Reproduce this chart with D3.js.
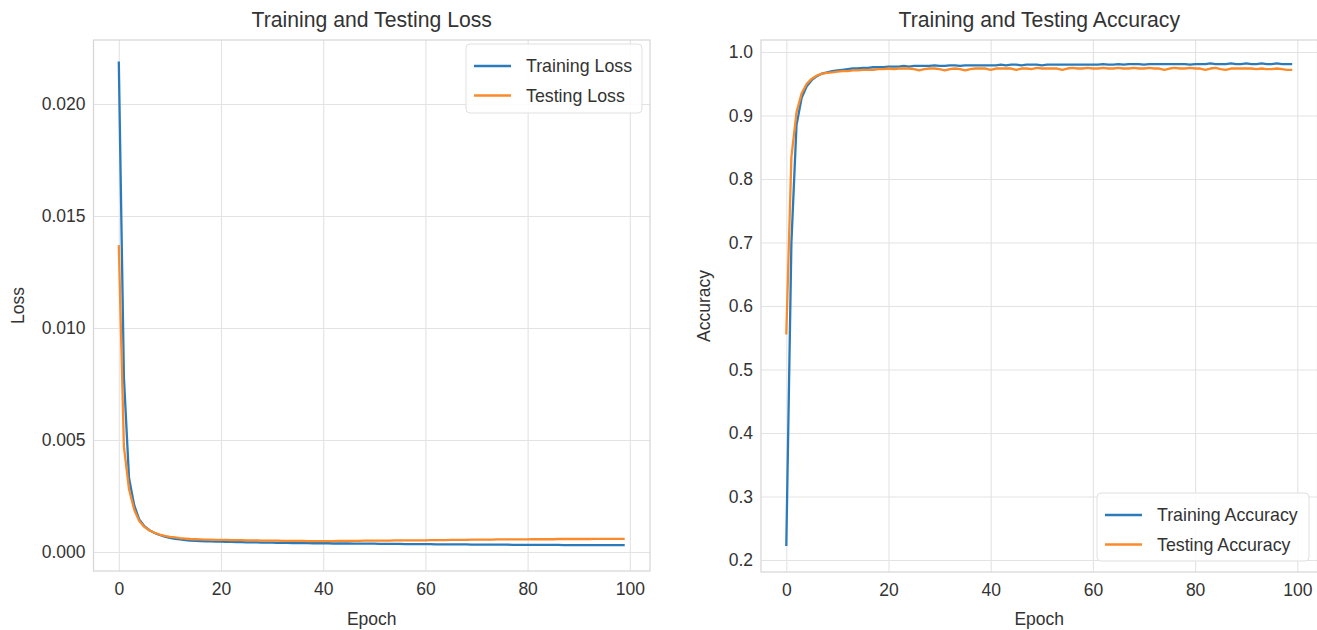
<!DOCTYPE html>
<html><head><meta charset="utf-8">
<script src="https://cdn.jsdelivr.net/npm/d3@7"></script>
<style>
body{margin:0;background:#fff;}
svg text{font-family:"Liberation Sans",Arial,sans-serif;fill:#333;}
</style></head>
<body><svg id="c" width="1317" height="630"></svg>
<script>
const epochs = d3.range(0, 100);
const xTicks = [0, 20, 40, 60, 80, 100];
const lossTicks = [0.000, 0.005, 0.010, 0.015, 0.020];
const accTicks = [0.2, 0.3, 0.4, 0.5, 0.6, 0.7, 0.8, 0.9, 1.0];

const trainLoss = [
 0.0219, 0.0078, 0.0033, 0.0021, 0.00145, 0.00115, 0.00097, 0.00085, 0.00076, 0.00069,
 0.00063, 0.00059, 0.00056, 0.00053, 0.00051, 0.00050, 0.00049, 0.00048, 0.00047, 0.00046,
 0.00046, 0.00045, 0.00045, 0.00044, 0.00044, 0.00043, 0.00043, 0.00043, 0.00042, 0.00042,
 0.00042, 0.00041, 0.00041, 0.00041, 0.00040, 0.00040, 0.00040, 0.00040, 0.00039, 0.00039,
 0.00039, 0.00039, 0.00038, 0.00038, 0.00038, 0.00038, 0.00037, 0.00037, 0.00037, 0.00037,
 0.00037, 0.00036, 0.00036, 0.00036, 0.00036, 0.00036, 0.00035, 0.00035, 0.00035, 0.00035,
 0.00035, 0.00035, 0.00034, 0.00034, 0.00034, 0.00034, 0.00034, 0.00034, 0.00034, 0.00033,
 0.00033, 0.00033, 0.00033, 0.00033, 0.00033, 0.00033, 0.00033, 0.00032, 0.00032, 0.00032,
 0.00032, 0.00032, 0.00032, 0.00032, 0.00032, 0.00032, 0.00032, 0.00031, 0.00031, 0.00031,
 0.00031, 0.00031, 0.00031, 0.00031, 0.00031, 0.00031, 0.00031, 0.00031, 0.00031, 0.00031
];
const testLoss = [
 0.0137, 0.0047, 0.0028, 0.0019, 0.00138, 0.00112, 0.00096, 0.00086, 0.00078, 0.00072,
 0.00068, 0.00065, 0.00062, 0.00060, 0.00058, 0.00057, 0.00056, 0.00055, 0.00055, 0.00054,
 0.00054, 0.00054, 0.00053, 0.00053, 0.00053, 0.00052, 0.00052, 0.00052, 0.00051, 0.00051,
 0.00051, 0.00051, 0.00050, 0.00050, 0.00050, 0.00050, 0.00050, 0.00049, 0.00049, 0.00049,
 0.00049, 0.00049, 0.00049, 0.00050, 0.00050, 0.00050, 0.00050, 0.00050, 0.00051, 0.00051,
 0.00051, 0.00051, 0.00051, 0.00051, 0.00052, 0.00052, 0.00052, 0.00052, 0.00052, 0.00052,
 0.00052, 0.00053, 0.00053, 0.00053, 0.00053, 0.00054, 0.00054, 0.00054, 0.00054, 0.00055,
 0.00055, 0.00055, 0.00055, 0.00055, 0.00056, 0.00056, 0.00056, 0.00056, 0.00056, 0.00056,
 0.00056, 0.00057, 0.00057, 0.00057, 0.00057, 0.00057, 0.00058, 0.00058, 0.00058, 0.00058,
 0.00058, 0.00058, 0.00058, 0.00059, 0.00059, 0.00059, 0.00059, 0.00059, 0.00059, 0.00059
];
const trainAcc = [
 0.222, 0.700, 0.885, 0.928, 0.946, 0.956, 0.962, 0.966, 0.968, 0.970,
 0.971, 0.972, 0.973, 0.974, 0.974, 0.975, 0.975, 0.976, 0.976, 0.976,
 0.977, 0.977, 0.977, 0.978, 0.977, 0.978, 0.978, 0.978, 0.978, 0.979,
 0.978, 0.978, 0.979, 0.979, 0.978, 0.979, 0.979, 0.979, 0.979, 0.979,
 0.979, 0.979, 0.980, 0.979, 0.980, 0.980, 0.979, 0.980, 0.980, 0.980,
 0.979, 0.980, 0.980, 0.980, 0.980, 0.980, 0.980, 0.980, 0.980, 0.980,
 0.980, 0.980, 0.981, 0.980, 0.980, 0.981, 0.980, 0.981, 0.981, 0.981,
 0.980, 0.981, 0.981, 0.981, 0.981, 0.981, 0.981, 0.981, 0.981, 0.980,
 0.981, 0.981, 0.981, 0.982, 0.981, 0.981, 0.981, 0.982, 0.981, 0.981,
 0.982, 0.981, 0.981, 0.982, 0.981, 0.981, 0.982, 0.981, 0.981, 0.981
];
const testAcc = [
 0.555, 0.835, 0.905, 0.935, 0.950, 0.958, 0.963, 0.966, 0.967, 0.968,
 0.969, 0.970, 0.970, 0.971, 0.971, 0.972, 0.972, 0.972, 0.973, 0.973,
 0.974, 0.973, 0.974, 0.974, 0.974, 0.973, 0.971, 0.973, 0.974, 0.974,
 0.973, 0.971, 0.973, 0.974, 0.973, 0.971, 0.973, 0.974, 0.974, 0.974,
 0.972, 0.974, 0.974, 0.974, 0.974, 0.972, 0.974, 0.974, 0.973, 0.975,
 0.974, 0.974, 0.974, 0.974, 0.972, 0.974, 0.975, 0.974, 0.974, 0.975,
 0.974, 0.974, 0.975, 0.974, 0.974, 0.975, 0.974, 0.974, 0.975, 0.974,
 0.974, 0.975, 0.974, 0.974, 0.972, 0.974, 0.975, 0.974, 0.974, 0.975,
 0.974, 0.974, 0.972, 0.974, 0.975, 0.973, 0.972, 0.974, 0.974, 0.974,
 0.974, 0.974, 0.973, 0.974, 0.973, 0.973, 0.974, 0.973, 0.972, 0.972
];

const BLUE = "#2b7bba", ORANGE = "#fb8a2a";
const svg = d3.select("#c");

function panel(cfg) {
  const x = d3.scaleLinear().domain([-4.95, 103.95]).range([cfg.x0, cfg.x1]);
  const y = d3.scaleLinear().domain(cfg.yDomain).range([cfg.y1, cfg.y0]);
  const g = svg.append("g");
  const w = cfg.x1 - cfg.x0, h = cfg.y1 - cfg.y0;

  const gx = g.append("g").attr("transform", `translate(0,${cfg.y1})`)
    .call(d3.axisBottom(x).tickValues(xTicks).tickSize(-h).tickPadding(12).tickFormat(d3.format("d")));
  const gy = g.append("g").attr("transform", `translate(${cfg.x0},0)`)
    .call(d3.axisLeft(y).tickValues(cfg.yTicks).tickSize(-w).tickPadding(8).tickFormat(cfg.fmt));
  [gx, gy].forEach(a => {
    a.select(".domain").remove();
    a.selectAll(".tick line").attr("stroke", "#e3e3e3").attr("stroke-width", 1.1);
    a.selectAll(".tick text").attr("fill", "#3a3a3a").style("font-size", "17.5px");
  });
  g.append("rect").attr("x", cfg.x0).attr("y", cfg.y0).attr("width", w).attr("height", h)
    .attr("fill", "none").attr("stroke", "#d6d6d6").attr("stroke-width", 1.2);

  const line = d3.line().x((d, i) => x(epochs[i])).y(d => y(d));
  cfg.series.forEach(s => {
    g.append("path").datum(s.values).attr("d", line)
      .attr("fill", "none").attr("stroke", s.color).attr("stroke-width", 2.3)
      .attr("stroke-linejoin", "round");
  });

  g.append("text").attr("x", (cfg.x0 + cfg.x1) / 2).attr("y", 27).attr("text-anchor", "middle")
    .style("font-size", "21.2px").attr("fill", "#2a2a2a").text(cfg.title);
  g.append("text").attr("x", (cfg.x0 + cfg.x1) / 2).attr("y", 625).attr("text-anchor", "middle")
    .style("font-size", "17.5px").attr("fill", "#2a2a2a").text("Epoch");
  g.append("text").attr("transform", `translate(${cfg.ylabX},${(cfg.y0 + cfg.y1) / 2}) rotate(-90)`)
    .attr("text-anchor", "middle").style("font-size", "17.5px").attr("fill", "#2a2a2a").text(cfg.ylabel);

  const L = cfg.legend;
  g.append("rect").attr("x", L.x).attr("y", L.y).attr("width", L.w).attr("height", L.h)
    .attr("rx", 4).attr("fill", "#fff").attr("fill-opacity", 0.85)
    .attr("stroke", "#e0e0e0").attr("stroke-width", 1);
  cfg.series.forEach((s, i) => {
    const yy = L.y + 22 + i * 29.5;
    g.append("line").attr("x1", L.x + 8).attr("x2", L.x + 45).attr("y1", yy).attr("y2", yy)
      .attr("stroke", s.color).attr("stroke-width", 2.3);
    g.append("text").attr("x", L.x + 60).attr("y", yy + 6).style("font-size", "17.8px")
      .attr("fill", "#333").text(s.name);
  });
}

panel({
  x0: 93.5, x1: 650, y0: 40, y1: 571,
  yDomain: [-0.000848, 0.022857], yTicks: lossTicks, fmt: d3.format(".3f"),
  title: "Training and Testing Loss", ylabel: "Loss", ylabX: 24,
  series: [{name: "Training Loss", values: trainLoss, color: BLUE},
           {name: "Testing Loss", values: testLoss, color: ORANGE}],
  legend: {x: 466, y: 44, w: 176, h: 69}
});
panel({
  x0: 761, x1: 1317.5, y0: 40, y1: 572,
  yDomain: [0.1811, 1.0189], yTicks: accTicks, fmt: d3.format(".1f"),
  title: "Training and Testing Accuracy", ylabel: "Accuracy", ylabX: 710,
  series: [{name: "Training Accuracy", values: trainAcc, color: BLUE},
           {name: "Testing Accuracy", values: testAcc, color: ORANGE}],
  legend: {x: 1097, y: 493, w: 212, h: 68}
});
</script></body></html>
